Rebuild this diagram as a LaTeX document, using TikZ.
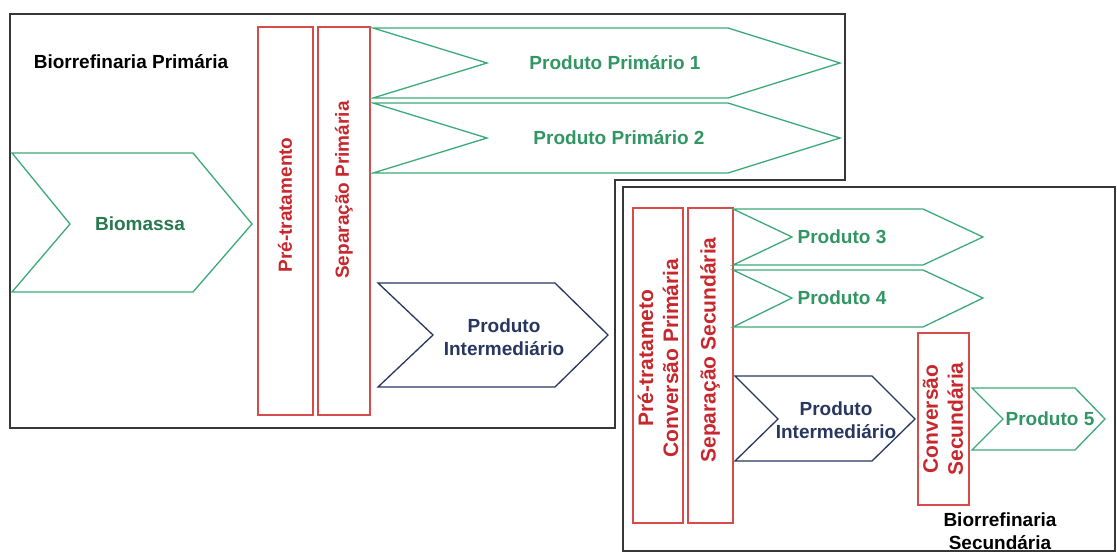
\documentclass[tikz,border=0pt]{standalone}
\usepackage{fontspec}
\setmainfont{Liberation Sans}
\definecolor{framegray}{RGB}{55,55,55}
\definecolor{chevgreen}{RGB}{60,170,120}
\definecolor{textgreen}{RGB}{50,150,100}
\definecolor{biogreen}{RGB}{40,120,80}
\definecolor{stagered}{RGB}{215,75,75}
\definecolor{textred}{RGB}{200,40,45}
\definecolor{chevnavy}{RGB}{40,55,95}
\begin{document}
\begin{tikzpicture}[x=1pt,y=-1pt,
  frame/.style={draw=framegray, line width=1.6pt},
  stage/.style={draw=stagered, line width=1.3pt},
  gchev/.style={draw=chevgreen, line width=1.3pt},
  bchev/.style={draw=chevnavy, line width=1.3pt},
  lbl/.style={font=\bfseries\fontsize{19}{23}\selectfont, inner sep=0pt, align=center},
  glbl/.style={lbl, text=textgreen},
  nlbl/.style={lbl, text=chevnavy},
  rlbl/.style={lbl, text=textred, rotate=90},
  rlblB/.style={rlbl, font=\bfseries\fontsize{21}{25}\selectfont}
]
\useasboundingbox (0,0) rectangle (1117,552);
\fill[white] (0,0) rectangle (1117,552);

% primary biorefinery frame, cut around the secondary one
\draw[frame] (10,14) -- (845,14) -- (845,180) -- (615,180) -- (615,428) -- (10,428) -- cycle;
% secondary biorefinery frame
\draw[frame, fill=white] (623,187) rectangle (1115,551);

% ---- primary biorefinery ----
\draw[gchev] (12,153) -- (193,153) -- (252,224) -- (193,292) -- (12,292) -- (70,224) -- cycle;
\draw[stage] (258,27) rectangle (313,415);
\draw[stage] (318,27) rectangle (370,415);
\draw[gchev] (373,28) -- (728,28) -- (840,63) -- (728,98) -- (373,98) -- (487,63) -- cycle;
\draw[gchev] (373,103) -- (728,103) -- (840,138) -- (728,173) -- (373,173) -- (487,138) -- cycle;
\draw[bchev] (378,283) -- (555,283) -- (608,335) -- (555,387) -- (378,387) -- (433,335) -- cycle;

\node[lbl] (titleA) at (131,62) {Biorrefinaria Primária};
\node[lbl, text=biogreen] (bio) at (140,224) {Biomassa};
\node[rlbl] (preA) at (285,205) {Pré-tratamento};
\node[rlbl] (sepA) at (344,190) {Separação Primária};
\node[glbl] (pp1) at (615,63) {Produto Primário 1};
\node[glbl] (pp2) at (619,138) {Produto Primário 2};
\node[nlbl] (piA) at (504,337) {Produto\\Intermediário};

% ---- secondary biorefinery ----
\draw[stage] (633,208) rectangle (683,523);
\draw[stage] (688,208) rectangle (733,523);
\draw[gchev] (733,209) -- (923,209) -- (983,237) -- (923,265) -- (733,265) -- (792,237) -- cycle;
\draw[gchev] (733,270) -- (923,270) -- (983,298) -- (923,327) -- (733,327) -- (792,298) -- cycle;
\draw[bchev] (735,376) -- (872,376) -- (915,419) -- (872,461) -- (735,461) -- (778,419) -- cycle;
\draw[stage] (918,333) rectangle (969,505);
\draw[gchev] (972,388) -- (1075,388) -- (1105,419) -- (1075,450) -- (972,450) -- (1003,419) -- cycle;

\node[rlblB] (preB) at (658,358) {Pré-tratameto\\Conversão Primária};
\node[rlblB] (sepB) at (710,350) {Separação Secundária};
\node[glbl] (p3) at (842,237) {Produto 3};
\node[glbl] (p4) at (842,298) {Produto 4};
\node[nlbl] (piB) at (836,420) {Produto\\Intermediário};
\node[rlblB] (convB) at (943,419) {Conversão\\Secundária};
\node[glbl] (p5) at (1050,419) {Produto 5};
\node[lbl] (titleB) at (1000,531) {Biorrefinaria\\Secundária};
\end{tikzpicture}
\end{document}
